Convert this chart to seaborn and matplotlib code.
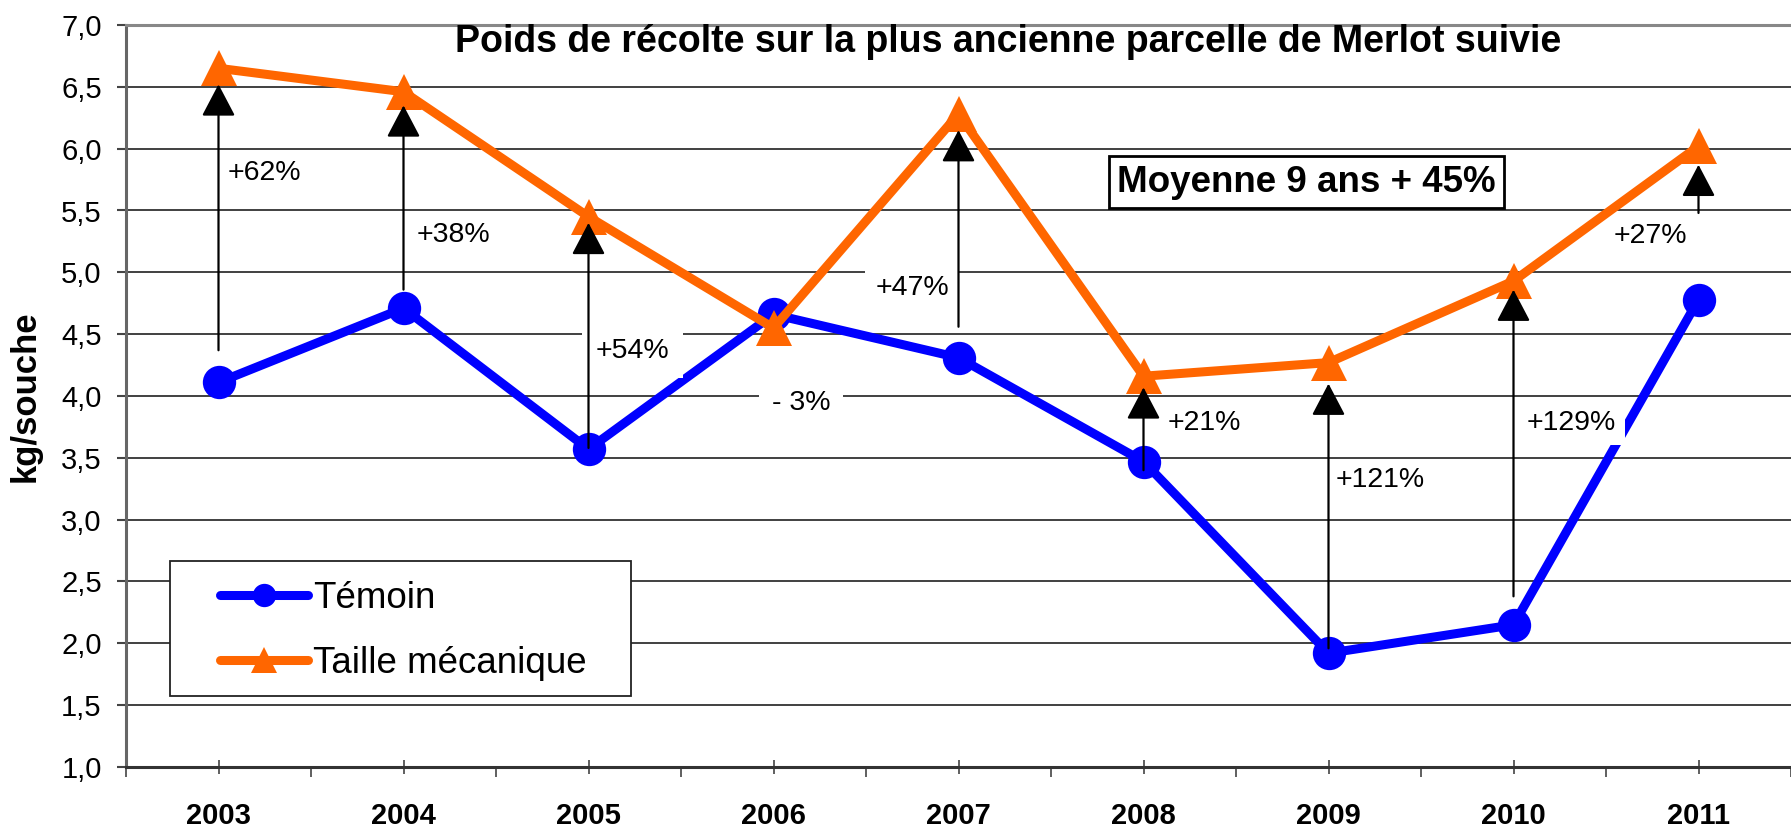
import matplotlib
matplotlib.use("Agg")
import matplotlib.pyplot as plt
from matplotlib.ticker import FuncFormatter, MultipleLocator
from matplotlib.patches import Rectangle
import seaborn as sns
import pandas as pd
import numpy as np

# ---------------- data ----------------
years = [2003, 2004, 2005, 2006, 2007, 2008, 2009, 2010, 2011]
temoin = [4.11, 4.71, 3.57, 4.66, 4.31, 3.47, 1.92, 2.15, 4.78]
taille = [6.65, 6.46, 5.45, 4.55, 6.28, 4.16, 4.27, 4.93, 6.02]
gain_labels = ["+62%", "+38%", "+54%", "- 3%", "+47%", "+21%", "+121%", "+129%", "+27%"]
arrow_years = [2003, 2004, 2005, 2007, 2008, 2009, 2010, 2011]
arrow_from = [4.37, 4.86, 3.58, 4.56, 3.40, 1.96, 2.38, 5.48]
arrow_to = [6.52, 6.35, 5.40, 6.15, 4.07, 4.10, 4.86, 5.87]
series_names = ["Témoin", "Taille mécanique"]
title_text = "Poids de récolte sur la plus ancienne parcelle de Merlot suivie"
mean_text = "Moyenne 9 ans + 45%"
ylabel_text = "kg/souche"

# ---------------- style ----------------
sns.set_theme(style="white")
plt.rcParams["font.family"] = ["Liberation Sans", "DejaVu Sans"]
plt.rcParams["text.color"] = "black"
plt.rcParams["axes.labelcolor"] = "black"
plt.rcParams["xtick.color"] = "black"
plt.rcParams["ytick.color"] = "black"

BLUE = "#0000FF"
ORANGE = "#FF6600"

fig = plt.figure(figsize=(17.91, 8.30), dpi=100)
ax = fig.add_axes([126 / 1791, 63 / 830, 1665 / 1791, 742 / 830])

df = pd.DataFrame({"Année": years, series_names[0]: temoin, series_names[1]: taille})
long = df.melt(id_vars="Année", var_name="Série", value_name="kg")

sns.lineplot(
    data=long, x="Année", y="kg", hue="Série", style="Série",
    hue_order=series_names, style_order=series_names,
    palette={series_names[0]: BLUE, series_names[1]: ORANGE},
    markers={series_names[0]: "o", series_names[1]: "^"},
    dashes=False, linewidth=6.5, markersize=24, markeredgewidth=0,
    errorbar=None, sort=False, ax=ax, zorder=2,
)
for ln in ax.lines:
    if ln.get_marker() == "^":
        ln.set_markersize(26.5)

# axes
ax.set_xlim(2002.5, 2011.5)
ax.set_ylim(1.0, 7.0)
ax.yaxis.set_major_locator(MultipleLocator(0.5))
ax.yaxis.set_major_formatter(FuncFormatter(lambda v, p: f"{v:.1f}".replace(".", ",")))
ax.set_xticks(years)
ax.set_xticklabels([str(y) for y in years], fontweight="bold", fontsize=21)
ax.set_xticks(np.arange(2002.5, 2012.0, 1.0), minor=True)
ax.tick_params(axis="y", labelsize=21, direction="out", length=6.5, width=1.5,
               color="#444444", labelcolor="black", pad=11, left=True)
ax.tick_params(axis="x", which="major", direction="inout", length=10, width=1.2,
               color="#444444", labelcolor="black", pad=20, bottom=True)
ax.tick_params(axis="x", which="minor", direction="out", length=7, width=1.2,
               color="#444444", bottom=True)
ax.grid(axis="y", color="#404040", linewidth=1.4)
ax.grid(axis="x", visible=False)
ax.set_axisbelow(True)
for side in ["left", "bottom", "top"]:
    ax.spines[side].set_visible(True)
    ax.spines[side].set_linewidth(2.2)
ax.spines["left"].set_color("#666666")
ax.spines["top"].set_color("#888888")
ax.spines["bottom"].set_color("#333333")
ax.spines["right"].set_visible(False)

ax.set_xlabel("")
ax.set_ylabel(ylabel_text, fontsize=25, fontweight="bold", color="black")
ax.yaxis.set_label_coords(-0.0505, 0.5)

# title inside plot
ax.text(0.530, 0.977, title_text, transform=ax.transAxes, ha="center", va="center",
        fontsize=27, fontweight="bold", color="black", zorder=5)

# mean box
ax.text(2008.88, 5.73, mean_text, ha="center", va="center", fontsize=26.5,
        fontweight="bold", color="black", zorder=5,
        bbox=dict(boxstyle="square,pad=0.22", facecolor="white", edgecolor="black", linewidth=2))

# percentage labels
label_x = [2003.05, 2004.07, 2005.04, 2006.15, 2006.75, 2008.13, 2009.04, 2010.07, 2010.54]
label_y = [5.80, 5.30, 4.36, 3.94, 4.87, 3.78, 3.32, 3.78, 5.29]
label_ha = ["left", "left", "left", "center", "center", "left", "left", "left", "left"]
label_pad = [0.15, 0.15, 0.48, 0.45, 0.35, 0.15, 0.15, 0.32, 0.2]
for lx, ly, txt, ha, pd_ in zip(label_x, label_y, gain_labels, label_ha, label_pad):
    ax.text(lx, ly, txt, ha=ha, va="center", fontsize=20.5, color="black", zorder=3,
            bbox=dict(boxstyle=f"square,pad={pd_}", facecolor="white", edgecolor="none"))

# arrows
for xa, y0, y1 in zip(arrow_years, arrow_from, arrow_to):
    ax.annotate("", xy=(xa, y1), xytext=(xa, y0),
                arrowprops=dict(arrowstyle="-|>,head_length=0.4,head_width=0.21",
                                mutation_scale=50, color="black", lw=1.6,
                                shrinkA=0, shrinkB=0),
                zorder=4)

# legend: frame drawn as a rectangle, entries from the plotted lines
frame = Rectangle(((170 - 126) / 1665, (767 - 696) / 742), 461 / 1665, 135 / 742,
                  transform=ax.transAxes, facecolor="white", edgecolor="#222222",
                  linewidth=1.3, zorder=5)
ax.add_patch(frame)
handles, labels = ax.get_legend_handles_labels()
leg = ax.legend(handles, labels, loc="upper left",
                bbox_to_anchor=((220 - 126) / 1665, (767 - 581) / 742),
                fontsize=26.5, frameon=False, handlelength=2.4, handletextpad=0.12,
                labelspacing=0.82, borderpad=0, borderaxespad=0, markerscale=0.7,
                labelcolor="black")
leg.set_zorder(6)

fig.savefig("out.png", dpi=100)
